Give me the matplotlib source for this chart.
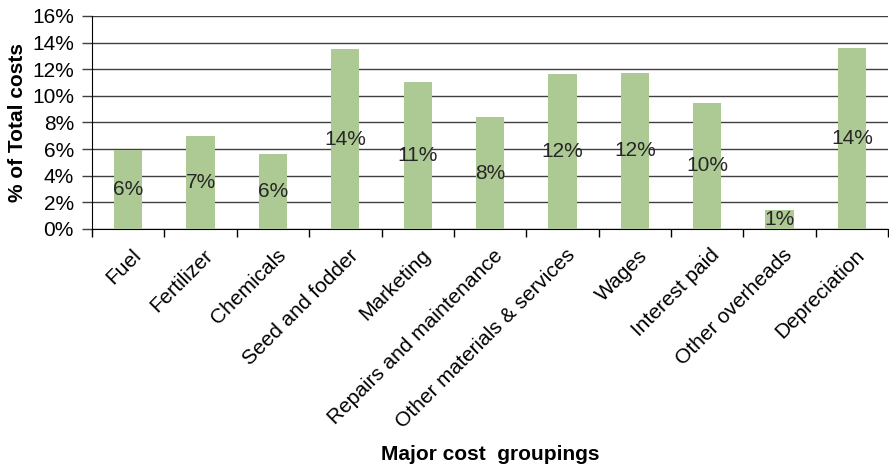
import matplotlib
matplotlib.use("Agg")
import matplotlib.pyplot as plt
from matplotlib.ticker import FixedLocator, FuncFormatter
from matplotlib.transforms import ScaledTranslation

categories = ["Fuel", "Fertilizer", "Chemicals", "Seed and fodder", "Marketing",
              "Repairs and maintenance", "Other materials & services", "Wages",
              "Interest paid", "Other overheads", "Depreciation"]
values = [5.9, 7.0, 5.65, 13.5, 11.05, 8.4, 11.65, 11.75, 9.5, 1.4, 13.6]
yticks = [0, 2, 4, 6, 8, 10, 12, 14, 16]

plt.rcParams['font.family'] = ['Liberation Sans', 'DejaVu Sans']

fig = plt.figure(figsize=(8.89, 4.70), dpi=100)
ax = fig.add_axes([0.1035, 0.5128, 0.8955, 0.4532])

x = list(range(len(categories)))
bars = ax.bar(x, values, width=0.39, color="#ADC994", zorder=3)

for xi, v in zip(x, values):
    ax.text(xi, v / 2, f"{round(v):.0f}%", ha="center", va="center",
            fontsize=15, color="#262626", zorder=4)

ax.set_xlim(-0.5, len(categories) - 0.5)
ax.set_ylim(0, 16)
ax.set_yticks(yticks)
ax.yaxis.set_major_formatter(FuncFormatter(lambda v, p: f"{v:.0f}%"))
ax.tick_params(axis="y", labelsize=15, length=7, width=1, color="#404040", pad=6)
ax.grid(axis="y", color="#404040", linewidth=1.0, zorder=1)

ax.set_xticks(x)
ax.set_xticklabels(categories, rotation=45, ha="right", rotation_mode="anchor",
                   fontsize=15)
ax.tick_params(axis="x", which="major", length=0, pad=12)
shift = ScaledTranslation(3 / 100, 0, fig.dpi_scale_trans)
for lab in ax.get_xticklabels():
    lab.set_transform(lab.get_transform() + shift)
ax.xaxis.set_minor_locator(FixedLocator([i - 0.5 for i in range(len(categories) + 1)]))
ax.tick_params(axis="x", which="minor", length=6, width=1, color="black")

for s in ["top", "right"]:
    ax.spines[s].set_visible(False)
ax.spines["left"].set_color("black")
ax.spines["bottom"].set_color("black")

ax.set_ylabel("% of Total costs", fontsize=15, fontweight="bold")
ax.yaxis.set_label_coords(-92 / 796 + 17 / 796, 0.5)
ax.yaxis.label.set_va("center")
fig.text(0.551, 0.032, "Major cost  groupings", ha="center", va="center",
         fontsize=15, fontweight="bold")

fig.savefig("out.png", dpi=100)
